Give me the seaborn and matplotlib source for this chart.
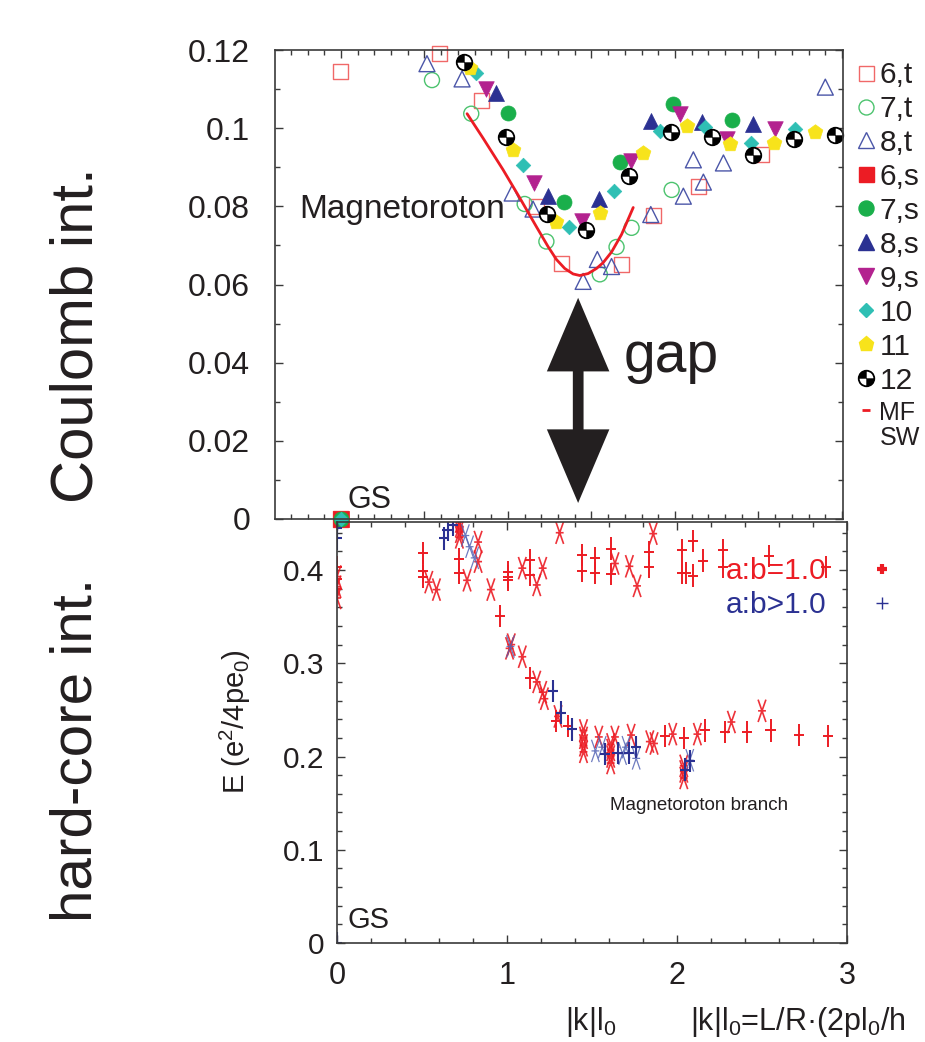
import matplotlib
matplotlib.use("Agg")
import matplotlib.pyplot as plt
import seaborn as sns
from matplotlib.path import Path
from matplotlib.lines import Line2D
from matplotlib.ticker import MultipleLocator, FuncFormatter

# ---- top panel: Coulomb interaction, E vs |k| l0 ----
t6_x = [0.0, 0.0, 0.59, 0.84, 1.17, 1.32, 1.68, 1.87, 2.14, 2.515]
t6_y = [0.0, 0.1144, 0.119, 0.107, 0.080, 0.0654, 0.065, 0.0776, 0.085, 0.0932]
t7_x = [0.545, 0.78, 1.10, 1.23, 1.55, 1.65, 1.74, 1.98]
t7_y = [0.1123, 0.1037, 0.0806, 0.071, 0.0626, 0.0696, 0.0745, 0.0842]
t8_x = [0.515, 0.725, 1.025, 1.15, 1.45, 1.535, 1.62, 1.855, 2.05, 2.11, 2.17, 2.29, 2.90]
t8_y = [0.1165, 0.1126, 0.0834, 0.0793, 0.0608, 0.0664, 0.0646, 0.0779, 0.0826, 0.0919, 0.0862, 0.0911, 0.1105]
s6_x = [0.0]
s6_y = [0.0]
s7_x = [0.0, 1.0, 1.335, 1.67, 1.99, 2.34]
s7_y = [0.0, 0.1039, 0.0812, 0.0914, 0.1062, 0.1021]
s8_x = [0.93, 1.24, 1.545, 1.855, 2.16, 2.47]
s8_y = [0.109, 0.0827, 0.082, 0.1019, 0.1016, 0.101]
s9_x = [0.87, 1.155, 1.445, 1.735, 2.03, 2.31, 2.60]
s9_y = [0.110, 0.086, 0.0763, 0.0916, 0.1037, 0.0973, 0.0998]
s10_x = [0.0, 0.81, 1.09, 1.365, 1.635, 1.91, 2.18, 2.455, 2.72]
s10_y = [0.0, 0.114, 0.0906, 0.0748, 0.084, 0.0992, 0.1003, 0.0962, 0.0998]
s11_x = [0.77, 1.03, 1.29, 1.55, 1.81, 2.07, 2.33, 2.59, 2.84]
s11_y = [0.1154, 0.0945, 0.0761, 0.0784, 0.0937, 0.1006, 0.096, 0.0962, 0.099]
s12_x = [0.735, 0.99, 1.235, 1.47, 1.725, 1.975, 2.22, 2.47, 2.71, 2.96]
s12_y = [0.1169, 0.0978, 0.0781, 0.074, 0.0878, 0.099, 0.0978, 0.0932, 0.0973, 0.0983]
mf_x = [0.755, 0.85, 0.97, 1.07, 1.17, 1.24, 1.29, 1.34, 1.39, 1.43, 1.48, 1.53, 1.57, 1.62, 1.68, 1.75]
mf_y = [0.1037, 0.0975, 0.0894, 0.0822, 0.0748, 0.0697, 0.0664, 0.0641, 0.0627, 0.0623,
        0.0628, 0.0641, 0.0656, 0.0683, 0.0728, 0.0797]
top_labels = ["6,t", "7,t", "8,t", "6,s", "7,s", "8,s", "9,s", "10", "11", "12", "MF\nSW"]

# ---- bottom panel: hard-core interaction ----
hc_plus_x = [0, 0, 0, 0, 0.506, 0.506, 0.506, 0.72, 0.72, 0.96, 1.005, 1.005, 1.005, 1.135, 1.135,
             1.135, 1.29, 1.36, 1.44, 1.44, 1.52, 1.52, 1.61, 1.61, 1.835, 1.835, 1.93, 2.03, 2.03,
             2.04, 2.05, 2.095, 2.095, 2.155, 2.165, 2.27, 2.27, 2.28, 2.41, 2.54, 2.55, 2.72, 2.875, 2.89]
hc_plus_y = [0.0, 0.403, 0.39, 0.38, 0.418, 0.399, 0.393, 0.412, 0.397, 0.351, 0.398, 0.393, 0.389,
             0.284, 0.411, 0.395, 0.238, 0.233, 0.416, 0.399, 0.413, 0.397, 0.423, 0.396, 0.419, 0.403,
             0.222, 0.421, 0.397, 0.22, 0.397, 0.431, 0.394, 0.41, 0.228, 0.421, 0.403, 0.226, 0.226,
             0.415, 0.228, 0.223, 0.403, 0.222]
hc_star_x = [0, 0, 0, 0.54, 0.585, 0.72, 0.72, 0.72, 0.72, 0.765, 0.83, 0.83, 0.905, 1.015, 1.025,
             1.09, 1.09, 1.175, 1.175, 1.21, 1.21, 1.22, 1.30, 1.31, 1.45, 1.45, 1.45, 1.45, 1.54,
             1.61, 1.61, 1.61, 1.61, 1.635, 1.635, 1.72, 1.73, 1.765, 1.84, 1.865, 1.86, 1.975,
             2.04, 2.04, 2.04, 2.12, 2.32, 2.50]
hc_star_y = [0.393, 0.382, 0.37, 0.387, 0.379, 0.435, 0.441, 0.447, 0.452, 0.389, 0.43, 0.409, 0.379,
             0.316, 0.32, 0.307, 0.402, 0.28, 0.384, 0.269, 0.402, 0.262, 0.243, 0.44, 0.205, 0.212,
             0.22, 0.228, 0.221, 0.193, 0.2, 0.207, 0.213, 0.221, 0.407, 0.404, 0.223, 0.383, 0.216,
             0.214, 0.439, 0.224, 0.177, 0.184, 0.19, 0.224, 0.237, 0.249]
el_plus_x = [0, 0, 0, 0.63, 0.65, 0.68, 1.27, 1.32, 1.38, 1.575, 1.65, 1.72, 1.76, 2.045, 2.075]
el_plus_y = [0.0, 0.445, 0.434, 0.434, 0.443, 0.448, 0.27, 0.247, 0.229, 0.203, 0.204, 0.204, 0.21,
             0.186, 0.195]
el_star_x = [0.755, 0.78, 0.81, 1.02, 1.52, 1.56, 1.68, 1.70, 1.76, 2.075]
el_star_y = [0.437, 0.425, 0.413, 0.318, 0.206, 0.21, 0.203, 0.21, 0.198, 0.196]
bottom_labels = ["a:b=1.0", "a:b>1.0"]

RED = "#ec1c24"
OPEN_RED = "#f06868"
OPEN_GREEN = "#4cc36e"
OPEN_BLUE = "#4b56a8"
GREEN = "#1aaf4b"
NAVY = "#2b3192"
MAGENTA = "#b3228f"
TEAL = "#2fbfb4"
YELLOW = "#f7e31b"
BLUE_LIGHT = "#5565b5"
TEXT = "#231f20"
AXC = "#3a3a3a"
NARROW = ["Liberation Sans Narrow", "Liberation Sans", "DejaVu Sans"]

M, L = Path.MOVETO, Path.LINETO
PLUS = Path([(0, -1), (0, 1), (-0.45, 0), (0.45, 0)], [M, L, M, L])
STAR = Path([(-0.35, -1), (0.35, 1), (-0.35, 1), (0.35, -1), (-0.35, 0), (0.35, 0)], [M, L, M, L, M, L])
QUARTERS = Path.make_compound_path(Path.wedge(90, 180), Path.wedge(270, 360))
# short dash lifted to the first line of a two-line legend label
RAISED_DASH = Path([(-0.3, 1), (0.3, 1), (0, -1)], [M, L, M])

sns.set_style("ticks")
plt.rcParams["font.family"] = ["Liberation Sans", "DejaVu Sans"]
plt.rcParams["mathtext.fontset"] = "custom"
plt.rcParams["mathtext.rm"] = "Liberation Sans"
plt.rcParams["mathtext.it"] = "Liberation Sans"
plt.rcParams["text.color"] = TEXT


def px_box(left, top, right, bottom):
    return [left / 925, 1 - bottom / 1042, (right - left) / 925, (bottom - top) / 1042]


def dots(ax, x, y, **kw):
    sns.scatterplot(x=x, y=y, ax=ax, legend=False, **kw)


fig = plt.figure(figsize=(9.25, 10.42), dpi=100)
ax1 = fig.add_axes(px_box(275, 50, 843, 519))
ax2 = fig.add_axes(px_box(337, 522, 847, 943))
ax2.set_facecolor("none")

# top panel marks
dots(ax1, t6_x, t6_y, marker="s", s=117, facecolor="none", edgecolor=OPEN_RED, linewidth=1, clip_on=False)
dots(ax1, t7_x, t7_y, marker="o", s=117, facecolor="none", edgecolor=OPEN_GREEN, linewidth=1, clip_on=False)
dots(ax1, t8_x, t8_y, marker="^", s=132, facecolor="none", edgecolor=OPEN_BLUE, linewidth=1, clip_on=False)
dots(ax1, s6_x, s6_y, marker="s", s=117, color=RED, edgecolor=RED, linewidth=0.5, clip_on=False)
dots(ax1, s7_x, s7_y, marker="o", s=117, color=GREEN, edgecolor=GREEN, linewidth=0.5, clip_on=False)
dots(ax1, s8_x, s8_y, marker="^", s=132, color=NAVY, edgecolor=NAVY, linewidth=0.5, clip_on=False)
dots(ax1, s9_x, s9_y, marker="v", s=125, color=MAGENTA, edgecolor=MAGENTA, linewidth=0.5, clip_on=False)
dots(ax1, s10_x, s10_y, marker="D", s=55, color=TEAL, edgecolor=TEAL, linewidth=0.5, clip_on=False)
dots(ax1, s11_x, s11_y, marker="p", s=125, color=YELLOW, edgecolor=YELLOW, linewidth=0.5, clip_on=False)
dots(ax1, s12_x, s12_y, marker="o", s=125, facecolor="white", edgecolor="black", linewidth=1.3, clip_on=False)
dots(ax1, s12_x, s12_y, marker=QUARTERS, s=125, color="black", edgecolor="black", linewidth=0.3, clip_on=False)
sns.lineplot(x=mf_x, y=mf_y, ax=ax1, color=RED, lw=2, sort=False, estimator=None, legend=False)

# bottom panel marks
dots(ax2, hc_star_x, hc_star_y, marker=STAR, s=260, facecolor="none", edgecolor=RED, linewidth=1.2, alpha=0.9)
dots(ax2, el_star_x, el_star_y, marker=STAR, s=260, facecolor="none", edgecolor=BLUE_LIGHT, linewidth=0.9, alpha=0.85)
dots(ax2, hc_plus_x, hc_plus_y, marker=PLUS, s=260, facecolor="none", edgecolor=RED, linewidth=1.4)
dots(ax2, el_plus_x, el_plus_y, marker=PLUS, s=260, facecolor="none", edgecolor=NAVY, linewidth=1.5)

# axes, ticks
ax1.set_xlim(-0.395, 3.006)
ax1.set_ylim(0, 0.12)
ax2.set_xlim(0, 3)
ax2.set_ylim(0, 0.4515)
ax1.xaxis.set_major_locator(MultipleLocator(0.5))
ax1.xaxis.set_minor_locator(MultipleLocator(0.1))
ax1.yaxis.set_major_locator(MultipleLocator(0.02))
ax1.yaxis.set_minor_locator(MultipleLocator(0.01))
ax2.xaxis.set_major_locator(MultipleLocator(1))
ax2.xaxis.set_minor_locator(MultipleLocator(0.2))
ax2.yaxis.set_major_locator(MultipleLocator(0.1))
ax2.yaxis.set_minor_locator(MultipleLocator(0.02))
fmt = FuncFormatter(lambda v, p: "%g" % round(v, 4))
for ax in (ax1, ax2):
    ax.xaxis.set_major_formatter(fmt)
    ax.yaxis.set_major_formatter(fmt)
    ax.set_xlabel("")
    ax.set_ylabel("")
    ax.tick_params(which="both", direction="in", top=True, right=True, color=AXC, width=1,
                   labelcolor=TEXT)
    ax.tick_params(which="major", length=6)
    ax.tick_params(which="minor", length=3.5)
    for sp in ax.spines.values():
        sp.set_color(AXC)
        sp.set_linewidth(1.2)
ax1.tick_params(axis="x", labelbottom=False)
ax1.tick_params(axis="y", labelsize=23, pad=18)
ax2.tick_params(axis="y", labelsize=21.5, pad=9)
ax2.tick_params(axis="x", labelsize=22, pad=13)

# gap arrow: two simple arrows whose shafts overlap in the middle
for tip, tail in ((0.0566, 0.022), (0.0041, 0.039)):
    ax1.annotate("", xy=(1.42, tip), xytext=(1.42, tail),
                 arrowprops=dict(arrowstyle="simple,head_length=5.3,head_width=4.5,tail_width=0.75",
                                 mutation_scale=10, lw=0, color=TEXT, shrinkA=0, shrinkB=0))

# annotations
ax1.text(-0.25, 0.0793, "Magnetoroton", fontsize=24, va="center")
ax1.text(1.69, 0.0415, "gap", fontsize=41, va="center")
ax1.text(0.042, 0.0028, "GS", fontsize=22, family=NARROW, va="baseline")
ax2.text(0.059, 0.016, "GS", fontsize=21, family=NARROW, va="baseline")
ax2.text(1.606, 0.1426, "Magnetoroton branch", fontsize=13.5, family=NARROW, va="baseline")

fig.text(77 / 925, 1 - 335 / 1042, "Coulomb int.", rotation=90, fontsize=43, family=NARROW,
         ha="center", va="center")
fig.text(77 / 925, 1 - 750 / 1042, "hard-core int.", rotation=90, fontsize=42, family=NARROW,
         ha="center", va="center")
fig.text(235 / 925, 1 - 722 / 1042, "E (e$^2$/4pe$_0$)", rotation=90, fontsize=21, family=NARROW,
         ha="center", va="center")
fig.text(565 / 925, 1 - 1030 / 1042, "|k|l$_0$", fontsize=22, family=NARROW, va="baseline")
fig.text(690 / 925, 1 - 1030 / 1042, "|k|l$_0$=L/R·(2pl$_0$/h", fontsize=22, family=NARROW,
         va="baseline")

# top legend
top_handles = [
    Line2D([], [], ls="none", marker="s", ms=10.8, mfc="none", mec=OPEN_RED, mew=1),
    Line2D([], [], ls="none", marker="o", ms=10.8, mfc="none", mec=OPEN_GREEN, mew=1),
    Line2D([], [], ls="none", marker="^", ms=11.5, mfc="none", mec=OPEN_BLUE, mew=1),
    Line2D([], [], ls="none", marker="s", ms=10.8, color=RED),
    Line2D([], [], ls="none", marker="o", ms=10.8, color=GREEN),
    Line2D([], [], ls="none", marker="^", ms=11.5, color=NAVY),
    Line2D([], [], ls="none", marker="v", ms=11.2, color=MAGENTA),
    Line2D([], [], ls="none", marker="D", ms=7.4, color=TEAL),
    Line2D([], [], ls="none", marker="p", ms=11.2, color=YELLOW),
    (Line2D([], [], ls="none", marker="o", ms=11.2, mfc="white", mec="black", mew=1.3),
     Line2D([], [], ls="none", marker=QUARTERS, ms=11.2, mfc="black", mec="black", mew=0.3)),
    Line2D([], [], ls="none", marker=RAISED_DASH, ms=20, mew=2, color=RED),
]
leg = fig.legend(top_handles, top_labels, loc="upper left", bbox_to_anchor=(857 / 925, 1 - 61 / 1042),
                 frameon=False, fontsize=21.5, handlelength=0.6, handletextpad=0.15,
                 labelspacing=0.2, borderpad=0, borderaxespad=0)
leg.get_texts()[-1].set_fontsize(18)
leg.get_texts()[-1].set_linespacing(1.05)

# bottom legend
bottom_handles = [
    Line2D([], [], ls="none", marker="+", ms=7, mew=3, color=RED),
    Line2D([], [], ls="none", marker="+", ms=8, mew=1, color=NAVY),
]
ax2.legend(bottom_handles, bottom_labels, loc="upper right", bbox_to_anchor=(897 / 925, 1 - 557 / 1042),
           bbox_transform=fig.transFigure, frameon=False, fontsize=21.5, markerfirst=False,
           handlelength=1.0, handletextpad=1.35, labelspacing=0.2, borderpad=0, borderaxespad=0,
           labelcolor=[RED, NAVY])

fig.savefig("out.png", dpi=100)
